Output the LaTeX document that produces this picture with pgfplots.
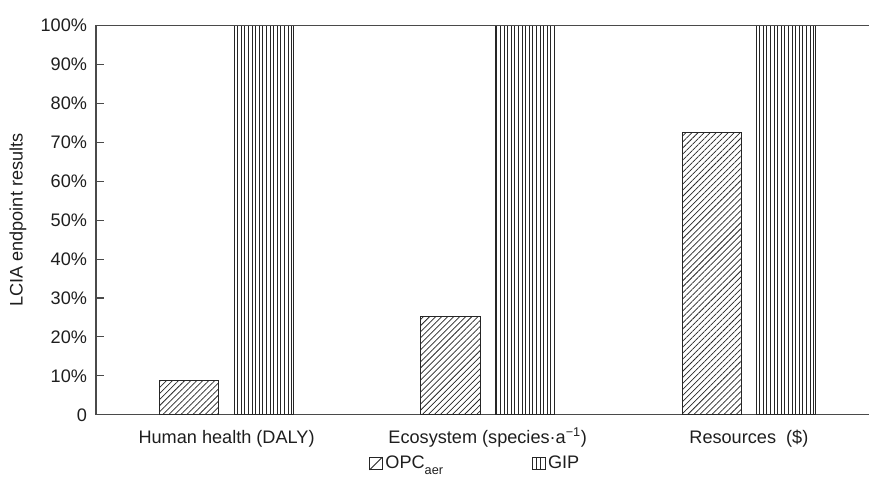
\documentclass[border=0pt]{standalone}
\usepackage{pgfplots}
\pgfplotsset{compat=1.18}
\usetikzlibrary{patterns.meta}
\usepackage{fontspec}
\setmainfont{Liberation Sans}
\definecolor{axgray}{HTML}{4A4A4A}
\definecolor{txt}{HTML}{1E1E1E}
\begin{document}
\fontsize{13.6pt}{15pt}\selectfont
\begin{tikzpicture}
\begin{axis}[
  name=ax,
  width=579.75pt, height=292pt, scale only axis,
  xmin=-0.5, xmax=2.46,
  ymin=0, ymax=100,
  axis lines*=left,
  axis line style={axgray, line width=0.9pt},
  ytick={0,10,...,100},
  yticklabels={0,10\%,20\%,30\%,40\%,50\%,60\%,70\%,80\%,90\%,100\%},
  ytick style={axgray, line width=0.8pt},
  major tick length=6pt,
  tick align=inside,
  xtick={0,1,2},
  xticklabels={Human health (DALY),Ecosystem (species·a\smash{\textsuperscript{−1}}),Resources\ \ (\$)},
  xtick style={draw=none},
  xticklabel style={yshift=-7pt, text=txt},
  yticklabel style={xshift=-2pt, text=txt},
  ylabel={LCIA endpoint results},
  every axis y label/.style={at={(axis description cs:0,0.5)}, rotate=90, anchor=center, yshift=58.5pt, text=txt},
  clip=false,
  legend columns=2,
  legend style={at={(0.491,-0.125)}, anchor=center, draw=none, fill=none,
     text=txt, /tikz/every even column/.append style={column sep=64pt},
     /tikz/every odd column/.append style={column sep=0pt}},
]
\addplot[forget plot, ybar, bar width=0.226, bar shift=-0.1427, draw=black!85, line width=0.7pt,
  pattern={Lines[angle=45, distance=3.2pt, line width=0.55pt]}, pattern color=black!85]
  coordinates {(0,8.8) (1,25.2) (2,72.5)};
\addplot[forget plot, ybar, bar width=0.226, bar shift=0.1427, draw=black!85, line width=0.7pt,
  pattern={Lines[angle=90, distance=2.7pt, line width=0.55pt]}, pattern color=black!85]
  coordinates {(0,100) (1,100) (2,100)};
\addlegendimage{legend image code/.code={\draw[black!85, line width=0.6pt] (0pt,-4.8pt) rectangle (9.6pt,4.8pt); \draw[black!85, line width=0.6pt] (0pt,-4.8pt) -- (9.6pt,4.8pt);}}
\addlegendentry{OPC\textsubscript{\raisebox{-2.5pt}{aer}}}
\addlegendimage{legend image code/.code={\draw[black!85, line width=0.6pt] (0pt,-4.8pt) rectangle (9.6pt,4.8pt); \draw[black!85, line width=0.6pt] (3.2pt,-4.8pt) -- (3.2pt,4.8pt) (6.4pt,-4.8pt) -- (6.4pt,4.8pt);}}
\addlegendentry{GIP}
\draw[axgray, line width=0.9pt] (rel axis cs:0,1) -- (rel axis cs:1,1);
\end{axis}
\pgfresetboundingbox
\path ([shift={(-72pt,-54pt)}]ax.south west) rectangle ([shift={(0pt,19.1pt)}]ax.north east);
\end{tikzpicture}
\end{document}
